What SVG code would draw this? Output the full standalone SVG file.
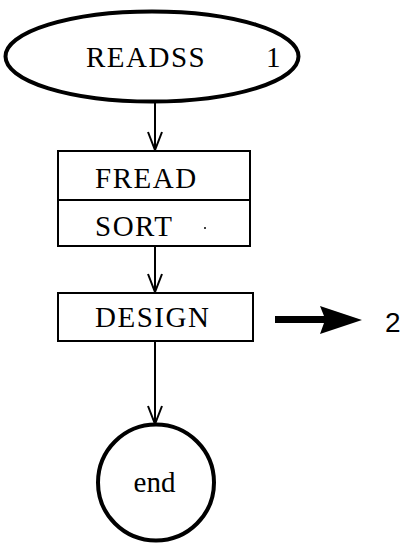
<svg xmlns="http://www.w3.org/2000/svg" width="404" height="548" viewBox="0 0 404 548">
<style>
text{font-family:"Liberation Serif","Times New Roman",serif;fill:#000}
.lbl{font-size:29px;letter-spacing:1.5px}
.box{fill:#fff;stroke:#000;stroke-width:2}
.edge{stroke:#000;stroke-width:2;fill:none}
</style>
<defs>
<marker id="v" markerWidth="20" markerHeight="16" refX="19" refY="8" orient="auto" markerUnits="userSpaceOnUse" viewBox="0 0 20 16">
<path d="M1,1 L19,8 L1,15" fill="none" stroke="#000" stroke-width="2"/>
</marker>
</defs>
<rect width="404" height="548" fill="#fff"/>
<g id="connectors">
<line class="edge" x1="155" y1="103" x2="155" y2="150" marker-end="url(#v)"/>
<line class="edge" x1="155" y1="246" x2="155" y2="292" marker-end="url(#v)"/>
<line class="edge" x1="155" y1="341" x2="155" y2="424" marker-end="url(#v)"/>
<path d="M275,316 L324,316 L320,306 L362,320 L320,334 L324,323 L275,323 Z" fill="#000"/>
</g>
<g id="readss">
<ellipse cx="152" cy="56.5" rx="146.5" ry="45" fill="#fff" stroke="#000" stroke-width="4"/>
<text class="lbl" x="86" y="67">READSS</text>
<text class="lbl" x="266" y="67">1</text>
</g>
<g id="fread-sort">
<rect class="box" x="58" y="151" width="192" height="95"/>
<line class="edge" x1="58" y1="200" x2="250" y2="200"/>
<text class="lbl" x="95" y="188">FREAD</text>
<text class="lbl" x="95" y="236">SORT</text>
<circle cx="205" cy="228" r="1" fill="#000"/>
</g>
<g id="design">
<rect class="box" x="58" y="293" width="195" height="48"/>
<text class="lbl" x="95" y="327">DESIGN</text>
</g>
<g id="label-2">
<text x="385" y="332" font-size="28" style="font-family:'Liberation Sans',Arial,sans-serif">2</text>
</g>
<g id="end">
<circle cx="156" cy="482.5" r="58" fill="#fff" stroke="#000" stroke-width="4"/>
<text x="154.5" y="492" font-size="29" text-anchor="middle">end</text>
</g>
</svg>
